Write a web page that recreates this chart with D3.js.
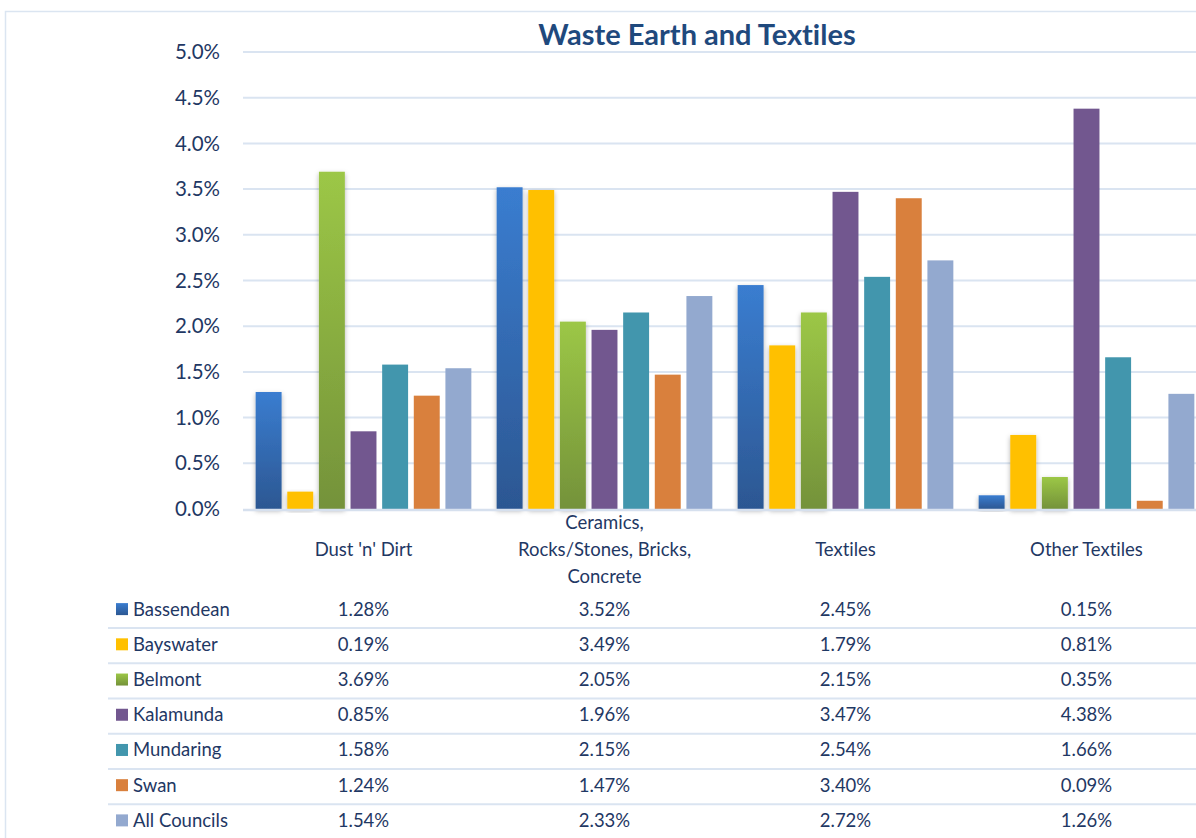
<!DOCTYPE html>
<html>
<head>
<meta charset="utf-8">
<script src="https://cdn.jsdelivr.net/npm/d3@7"></script>
<style>
  body { margin: 0; background: #fff; }
  svg text { font-family: Lato, "Open Sans", sans-serif; fill: #1f3864; font-variant-ligatures: none; }
</style>
</head>
<body>
<div id="plot"></div>
<script>
const categories = ["Dust 'n' Dirt", "Ceramics, Rocks/Stones, Bricks, Concrete", "Textiles", "Other Textiles"];
const categoryLines = [["Dust 'n' Dirt"], ["Ceramics,", "Rocks/Stones, Bricks,", "Concrete"], ["Textiles"], ["Other Textiles"]];
const councils = ["Bassendean", "Bayswater", "Belmont", "Kalamunda", "Mundaring", "Swan", "All Councils"];

const bassendean = [1.28, 3.52, 2.45, 0.15];
const bayswater = [0.19, 3.49, 1.79, 0.81];
const belmont = [3.69, 2.05, 2.15, 0.35];
const kalamunda = [0.85, 1.96, 3.47, 4.38];
const mundaring = [1.58, 2.15, 2.54, 1.66];
const swan = [1.24, 1.47, 3.40, 0.09];
const allCouncils = [1.54, 2.33, 2.72, 1.26];

const yTicks = [0, 0.5, 1, 1.5, 2, 2.5, 3, 3.5, 4, 4.5, 5];

const series = [bassendean, bayswater, belmont, kalamunda, mundaring, swan, allCouncils];

const width = 1196, height = 838;
const plot = { left: 243, right: 1207, top: 52, bottom: 509 };

const svg = d3.select("div#plot")
  .append("svg")
  .attr("width", width)
  .attr("height", height);

const defs = svg.append("defs");

function gradient(id, top, bottom) {
  const g = defs.append("linearGradient")
    .attr("id", id)
    .attr("x1", 0).attr("y1", 0).attr("x2", 0).attr("y2", 1);
  g.append("stop").attr("offset", "0%").attr("stop-color", top);
  g.append("stop").attr("offset", "100%").attr("stop-color", bottom);
  return `url(#${id})`;
}

const fills = [
  gradient("gBlue", "#3a7dd0", "#2c5792"),
  "#ffc000",
  gradient("gGreen", "#9cc746", "#74923a"),
  "#72578f",
  "#4296ad",
  "#d9803d",
  "#93a9cf"
];

const shadow = defs.append("filter")
  .attr("id", "shadow")
  .attr("x", "-30%").attr("y", "-10%").attr("width", "160%").attr("height", "130%");
shadow.append("feDropShadow")
  .attr("dx", 0).attr("dy", 2)
  .attr("stdDeviation", 2.5)
  .attr("flood-color", "#000")
  .attr("flood-opacity", 0.3);

// chart frame
svg.append("path")
  .attr("d", `M5.5,${height} V11.5 H${width}`)
  .attr("fill", "none")
  .attr("stroke", "#dbe5f1")
  .attr("stroke-width", 1.5);

const y = d3.scaleLinear().domain([0, 5]).range([plot.bottom, plot.top]);
const x0 = d3.scaleBand().domain(categories).range([plot.left, plot.right]);
const x1 = d3.scaleBand().domain(councils).range([0, x0.bandwidth()])
  .paddingInner(0.18).paddingOuter(0.4);

// gridlines
svg.append("g")
  .selectAll("line")
  .data(yTicks.filter(d => d > 0))
  .join("line")
  .attr("x1", plot.left)
  .attr("x2", width)
  .attr("y1", d => y(d))
  .attr("y2", d => y(d))
  .attr("stroke", "#dae4f1")
  .attr("stroke-width", 2);

// y tick labels
svg.append("g")
  .selectAll("text")
  .data(yTicks)
  .join("text")
  .attr("x", 220)
  .attr("y", d => y(d))
  .attr("dy", "0.35em")
  .attr("text-anchor", "end")
  .style("font-size", "20.5px")
  .text(d => d3.format(".1f")(d) + "%");

// bars
const groups = svg.append("g")
  .selectAll("g")
  .data(categories)
  .join("g")
  .attr("transform", d => `translate(${x0(d)},0)`);

groups.selectAll("rect")
  .data((c, ci) => councils.map((name, si) => ({ name, si, value: series[si][ci] })))
  .join("rect")
  .attr("x", d => x1(d.name))
  .attr("width", x1.bandwidth())
  .attr("y", d => y(d.value))
  .attr("height", d => y(0) - y(d.value))
  .attr("fill", d => fills[d.si])
  .attr("filter", d => d.si < 3 ? "url(#shadow)" : null);

// axis line
svg.append("line")
  .attr("x1", plot.left)
  .attr("x2", width)
  .attr("y1", y(0) + 1)
  .attr("y2", y(0) + 1)
  .attr("stroke", "#d6e0ee")
  .attr("stroke-width", 2.5);

// category labels
const catLabels = svg.append("g")
  .selectAll("text")
  .data(categories)
  .join("text")
  .attr("x", d => x0(d) + x0.bandwidth() / 2)
  .attr("y", (d, i) => categoryLines[i].length > 1 ? 523 : 550)
  .attr("text-anchor", "middle")
  .style("font-size", "18.5px");

catLabels.selectAll("tspan")
  .data((d, i) => categoryLines[i])
  .join("tspan")
  .attr("x", function() { return this.parentNode.getAttribute("x"); })
  .attr("dy", (d, i) => i === 0 ? "0.35em" : "1.46em")
  .text(d => d);

// data table
const rowY = d3.scaleBand().domain(councils).range([591.5, 838]);

const rows = svg.append("g")
  .selectAll("g")
  .data(councils)
  .join("g")
  .attr("transform", d => `translate(0,${rowY(d) + rowY.bandwidth() / 2})`);

rows.filter((d, i) => i < councils.length - 1)
  .append("line")
  .attr("x1", 108)
  .attr("x2", width)
  .attr("y1", 19)
  .attr("y2", 19)
  .attr("stroke", "#dae4f1")
  .attr("stroke-width", 2);

rows.append("rect")
  .attr("x", 116)
  .attr("y", -6)
  .attr("width", 12)
  .attr("height", 12)
  .attr("fill", (d, i) => fills[i]);

rows.append("text")
  .attr("x", 133)
  .attr("dy", "0.35em")
  .style("font-size", "18.5px")
  .text(d => d);

rows.each(function(name, si) {
  d3.select(this).selectAll("text.val")
    .data(categories)
    .join("text")
    .attr("class", "val")
    .attr("x", c => x0(c) + x0.bandwidth() / 2)
    .attr("dy", "0.35em")
    .attr("text-anchor", "middle")
    .style("font-size", "18.5px")
    .text((c, ci) => d3.format(".2f")(series[si][ci]) + "%");
});

// title
svg.append("text")
  .attr("x", 697)
  .attr("y", 35)
  .attr("dy", "0.35em")
  .attr("text-anchor", "middle")
  .style("font-size", "29px")
  .style("font-weight", "bold")
  .style("fill", "#1f497d")
  .text("Waste Earth and Textiles");
</script>
</body>
</html>
